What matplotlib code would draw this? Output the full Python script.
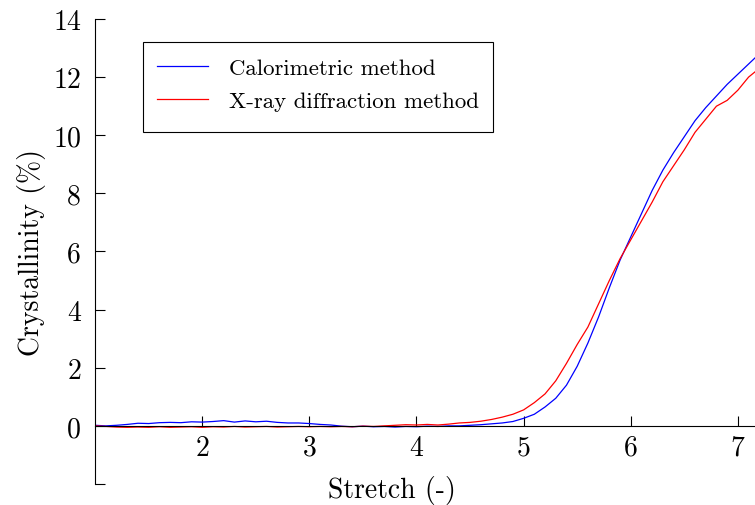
import numpy as np
from matplotlib import pyplot as plt
from matplotlib.patches import Rectangle

plt.rcParams['font.family'] = 'serif'
plt.rcParams['font.serif'] = ['cmr10']
plt.rcParams['mathtext.fontset'] = 'cm'
plt.rcParams['axes.formatter.use_mathtext'] = True

# stretch values (-)
stretch = [1.0, 1.1, 1.2, 1.3, 1.4, 1.5, 1.6, 1.7, 1.8, 1.9,
           2.0, 2.1, 2.2, 2.3, 2.4, 2.5, 2.6, 2.7, 2.8, 2.9,
           3.0, 3.1, 3.2, 3.3, 3.4, 3.5, 3.6, 3.7, 3.8, 3.9,
           4.0, 4.1, 4.2, 4.3, 4.4, 4.5, 4.6, 4.7, 4.8, 4.9,
           5.0, 5.1, 5.2, 5.3, 5.4, 5.5, 5.6, 5.7, 5.8, 5.9,
           6.0, 6.1, 6.2, 6.3, 6.4, 6.5, 6.6, 6.7, 6.8, 6.9,
           7.0, 7.1, 7.2]

calorimetric = [0.02, 0.0, 0.02, 0.05, 0.09, 0.08, 0.11, 0.12, 0.11, 0.14,
                0.13, 0.15, 0.18, 0.13, 0.17, 0.14, 0.16, 0.12, 0.1, 0.1,
                0.08, 0.05, 0.03, -0.01, -0.03, -0.01, -0.03, -0.02, -0.04, -0.02,
                -0.03, -0.01, -0.02, 0.0, 0.0, 0.02, 0.04, 0.07, 0.1, 0.15,
                0.26, 0.4, 0.65, 0.95, 1.4, 2.05, 2.85, 3.75, 4.75, 5.7,
                6.5, 7.3, 8.1, 8.8, 9.4, 9.95, 10.5, 10.95, 11.35, 11.75,
                12.1, 12.45, 12.8]

xray = [0.0, -0.02, -0.04, -0.05, -0.04, -0.05, -0.03, -0.05, -0.04, -0.03,
        -0.05, -0.03, -0.04, -0.02, -0.04, -0.03, -0.02, -0.04, -0.03, -0.02,
        -0.03, -0.02, -0.03, -0.02, -0.03, -0.01, -0.02, 0.0, 0.02, 0.04,
        0.03, 0.05, 0.03, 0.06, 0.1, 0.12, 0.16, 0.22, 0.3, 0.4,
        0.55, 0.8, 1.1, 1.55, 2.15, 2.8, 3.4, 4.2, 5.0, 5.75,
        6.4, 7.05, 7.7, 8.4, 8.95, 9.5, 10.1, 10.55, 11.0, 11.2,
        11.55, 12.0, 12.3]

xticks = [2, 3, 4, 5, 6, 7]
yticks = [-2, 0, 2, 4, 6, 8, 10, 12, 14]
ylabels = ['', '0', '2', '4', '6', '8', '10', '12', '14']

fig = plt.figure(figsize=(7.55, 5.06), dpi=100)
ax = fig.add_axes([0.126, 0.0415, 0.874, 0.919])

ax.plot(stretch, calorimetric, color='blue', lw=0.9, label='Calorimetric method')
ax.plot(stretch, xray, color='red', lw=0.9, label='X-ray diffraction method')

ax.set_xlim(1, 7.16)
ax.set_ylim(-2, 14)

ax.spines['top'].set_visible(False)
ax.spines['right'].set_visible(False)
ax.spines['bottom'].set_position(('data', 0))
for s in ['left', 'bottom']:
    ax.spines[s].set_linewidth(0.8)

ax.set_xticks(xticks)
ax.set_yticks(yticks)
ax.set_yticklabels(ylabels)
ax.tick_params(axis='both', direction='in', length=7, width=0.8, labelsize=20)
ax.tick_params(axis='y', pad=10)
ax.tick_params(axis='x', pad=6)

ax.set_xlabel('Stretch (-)', fontsize=20)
ax.set_ylabel('Crystallinity (%)', fontsize=20)
ax.xaxis.set_label_coords(0.45, 0.02)
ax.yaxis.set_label_coords(-0.075, 0.5)

# legend without its own frame, box drawn separately (extra space at the bottom)
ax.legend(loc='upper left', bbox_to_anchor=(0.094, 0.917), fontsize=16.5,
          frameon=False, handlelength=2.2, handletextpad=0.95,
          borderpad=0, labelspacing=0.58, borderaxespad=0)
ax.add_patch(Rectangle((0.0727, 0.757), 0.603 - 0.0727, 0.9505 - 0.757,
                       transform=ax.transAxes, fill=False, edgecolor='black',
                       linewidth=0.8, clip_on=False, zorder=5))

fig.savefig('out.png', dpi=100)
